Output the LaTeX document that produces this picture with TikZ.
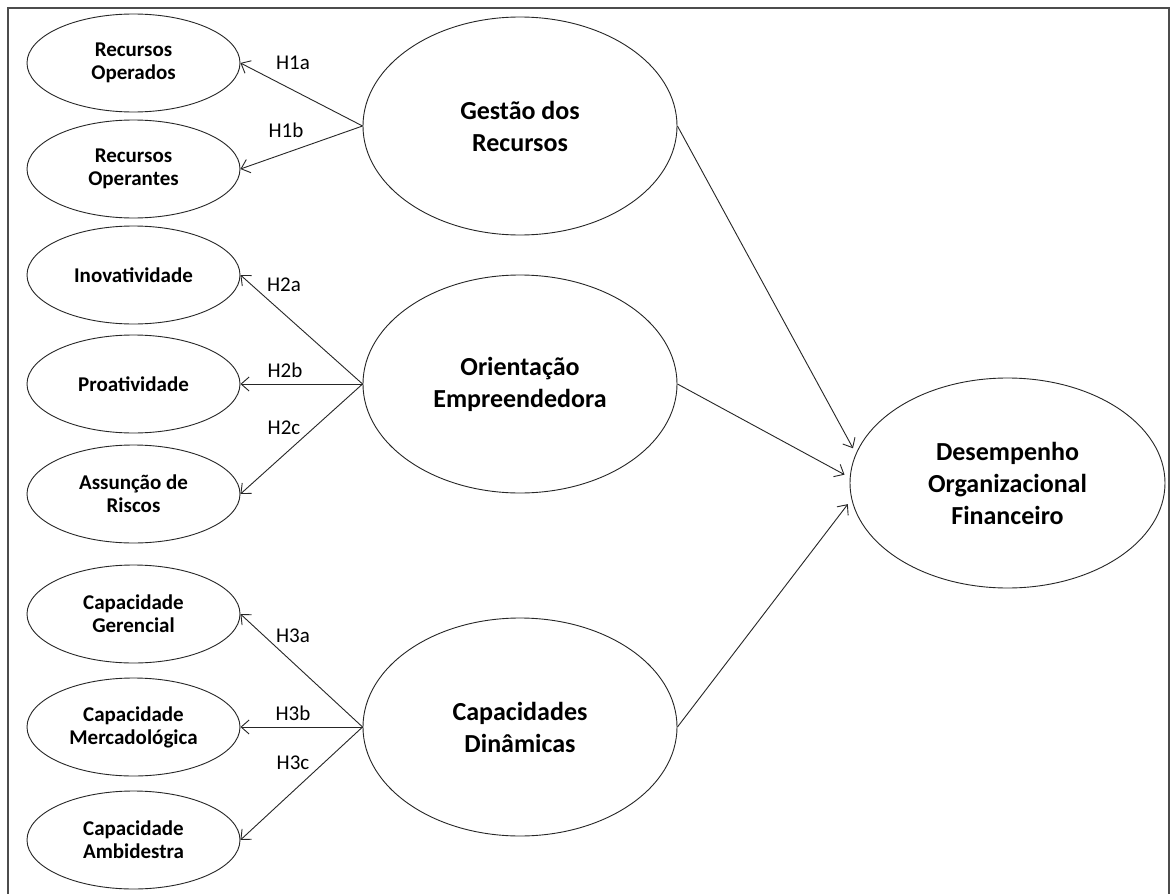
\documentclass[tikz,border=0pt]{standalone}
\usepackage{fontspec}
\setmainfont{Carlito}
\usetikzlibrary{shapes.geometric,arrows.meta,calc}
\begin{document}
\begin{tikzpicture}[x=1pt,y=-1pt,
  small/.style={ellipse,draw=black!85,line width=0.9pt,minimum width=213pt,minimum height=98pt,inner sep=0pt,align=center,font=\fontsize{21}{23}\selectfont\bfseries},
  big/.style={ellipse,draw=black!85,line width=0.9pt,minimum width=314pt,minimum height=218pt,inner sep=0pt,align=center,font=\fontsize{26}{32}\selectfont\bfseries},
  hyp/.style={font=\fontsize{21}{24}\selectfont,inner sep=0pt},
  arr/.style={draw=black!85,line width=0.9pt,-{Straight Barb[length=8pt,width=14pt,line width=0.9pt]}}]
\useasboundingbox (0,0) rectangle (1171,894);
\fill[white] (0,0) rectangle (1171,894);
\draw[black!70,line width=1.4pt] (8,894) -- (8,8) -- (1169,8) -- (1169,894);

% small ellipses
\node[small] (ro) at (133.5,63) {Recursos\\Operados};
\node[small] (rp) at (133.5,169) {Recursos\\Operantes};
\node[small] (ino) at (133.5,275) {Inovatividade};
\node[small] (pro) at (133.5,384) {Proatividade};
\node[small] (ass) at (133.5,494) {Assunção de\\Riscos};
\node[small] (ger) at (133.5,614) {Capacidade\\Gerencial};
\node[small] (mer) at (133.5,727) {Capacidade\\Mercadológica};
\node[small] (amb) at (133.5,840) {Capacidade\\Ambidestra};

% big ellipses
\node[big] (gr) at (520,126) {Gestão dos\\Recursos};
\node[big] (oe) at (520,384) {Orientação\\Empreendedora};
\node[big] (cd) at (520,727) {Capacidades\\Dinâmicas};
\node[big,minimum width=315pt,minimum height=210pt] (des) at (1007.5,483) {Desempenho\\Organizacional\\Financeiro};

% hypothesis arrows
\draw[arr] (gr.west) -- (ro.east);
\draw[arr] (gr.west) -- (rp.east);
\draw[arr] (oe.west) -- (ino.east);
\draw[arr] (oe.west) -- (pro.east);
\draw[arr] (oe.west) -- (ass.east);
\draw[arr] (cd.west) -- (ger.east);
\draw[arr] (cd.west) -- (mer.east);
\draw[arr] (cd.west) -- (amb.east);

\draw[arr,shorten >=6pt] (gr.east) -- (des.169);
\draw[arr,shorten >=6pt] (oe.east) -- (des.178);
\draw[arr,shorten >=6pt] (cd.east) -- (des.186);

% labels
\node[hyp] (l1a) at (293,63) {H1a};
\node[hyp] (l1b) at (286,130) {H1b};
\node[hyp] (l2a) at (284,285) {H2a};
\node[hyp] (l2b) at (285,370) {H2b};
\node[hyp] (l2c) at (284,428) {H2c};
\node[hyp] (l3a) at (293,636) {H3a};
\node[hyp] (l3b) at (293,713) {H3b};
\node[hyp] (l3c) at (293,763) {H3c};
\end{tikzpicture}
\end{document}
